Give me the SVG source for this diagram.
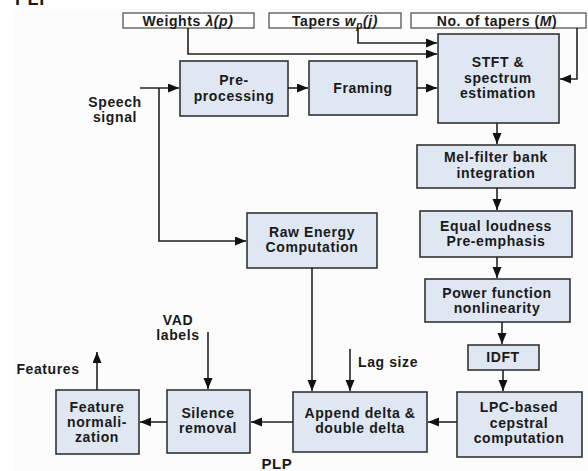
<svg xmlns="http://www.w3.org/2000/svg" width="588" height="471" viewBox="0 0 588 471">
<style>
text{font-family:"Liberation Sans",Arial,sans-serif;font-weight:bold;font-size:14px;letter-spacing:0.6px;fill:#1a1a1a;text-anchor:middle}
.box{fill:#dfe7f2;stroke:#333;stroke-width:1.6}
.in{fill:#fff;stroke:#555;stroke-width:1.3}
.c{fill:none;stroke:#222;stroke-width:1.6}
.lbl{text-anchor:start}
</style>
<defs>
<marker id="ah" markerUnits="userSpaceOnUse" markerWidth="12" markerHeight="10" refX="11" refY="4.5" orient="auto">
<path d="M0,0 L11,4.5 L0,9 z" fill="#111"/>
</marker>
</defs>
<rect x="0" y="0" width="588" height="471" fill="#fff"/>
<rect x="13" y="9" width="575" height="462" fill="#fcfcfc"/>
<text x="15" y="5" class="lbl" style="font-size:18px">PLP</text>

<g id="weights"><rect class="in" x="123" y="13" width="131" height="15"/><text x="188" y="26">Weights <tspan font-style="italic">λ(p)</tspan></text></g>
<g id="tapers"><rect class="in" x="269" y="13" width="132" height="15"/><text x="335" y="26">Tapers <tspan font-style="italic">w</tspan><tspan font-style="italic" font-size="10" dy="3">p</tspan><tspan font-style="italic" dy="-3">(j)</tspan></text></g>
<g id="ntapers"><rect class="in" x="411" y="13" width="175" height="15"/><text x="497" y="26">No. of tapers (<tspan font-style="italic">M</tspan>)</text></g>

<g id="preprocessing"><rect class="box" x="180" y="61" width="108" height="55"/><text x="234" y="85">Pre-</text><text x="234" y="101">processing</text></g>
<g id="framing"><rect class="box" x="309" y="61" width="108" height="54"/><text x="363" y="93">Framing</text></g>
<g id="stft"><rect class="box" x="438" y="34" width="121" height="89"/><text x="498" y="67">STFT &amp;</text><text x="498" y="83">spectrum</text><text x="498" y="98">estimation</text></g>
<g id="mel"><rect class="box" x="417" y="145" width="158" height="43"/><text x="496" y="162">Mel-filter bank</text><text x="496" y="178">integration</text></g>
<g id="equal"><rect class="box" x="420" y="211" width="152" height="46"/><text x="496" y="231">Equal loudness</text><text x="496" y="246">Pre-emphasis</text></g>
<g id="power"><rect class="box" x="425" y="279" width="145" height="43"/><text x="497" y="298">Power function</text><text x="497" y="313">nonlinearity</text></g>
<g id="idft"><rect class="box" x="468" y="345" width="71" height="25"/><text x="503" y="362">IDFT</text></g>
<g id="lpc"><rect class="box" x="457" y="392" width="125" height="65"/><text x="519" y="412">LPC-based</text><text x="519" y="428">cepstral</text><text x="519" y="443">computation</text></g>
<g id="append"><rect class="box" x="293" y="392" width="134" height="60"/><text x="360" y="418">Append delta &amp;</text><text x="360" y="433">double delta</text></g>
<g id="raw"><rect class="box" x="247" y="213" width="130" height="55"/><text x="312" y="237">Raw Energy</text><text x="312" y="252">Computation</text></g>
<g id="silence"><rect class="box" x="167" y="390" width="83" height="63"/><text x="208" y="418">Silence</text><text x="208" y="433">removal</text></g>
<g id="featnorm"><rect class="box" x="56" y="390" width="83" height="64"/><text x="97" y="412">Feature</text><text x="97" y="427">normali-</text><text x="97" y="442">zation</text></g>

<g id="labels">
<text x="115" y="107">Speech</text><text x="115" y="122">signal</text>
<text x="178" y="325">VAD</text><text x="178" y="340">labels</text>
<text x="48" y="374">Features</text>
<text x="358" y="367" class="lbl">Lag size</text>
<text x="277" y="469" style="font-size:15px">PLP</text>
</g>

<g id="connectors">
<path class="c" d="M188,28 V54 H437" marker-end="url(#ah)"/>
<path class="c" d="M358,28 V43 H437" marker-end="url(#ah)"/>
<path class="c" d="M577,28 V79 H560" marker-end="url(#ah)"/>
<path class="c" d="M140,88 H179" marker-end="url(#ah)"/>
<path class="c" d="M288,88 H308" marker-end="url(#ah)"/>
<path class="c" d="M417,88 H437" marker-end="url(#ah)"/>
<path class="c" d="M159,88 V241 H246" marker-end="url(#ah)"/>
<path class="c" d="M497,123 V144" marker-end="url(#ah)"/>
<path class="c" d="M497,188 V210" marker-end="url(#ah)"/>
<path class="c" d="M497,257 V278" marker-end="url(#ah)"/>
<path class="c" d="M502,322 V344" marker-end="url(#ah)"/>
<path class="c" d="M503,370 V391" marker-end="url(#ah)"/>
<path class="c" d="M457,422 H428" marker-end="url(#ah)"/>
<path class="c" d="M312,268 V391" marker-end="url(#ah)"/>
<path class="c" d="M350,349 V391" marker-end="url(#ah)"/>
<path class="c" d="M293,422 H251" marker-end="url(#ah)"/>
<path class="c" d="M208,332 V389" marker-end="url(#ah)"/>
<path class="c" d="M167,422 H140" marker-end="url(#ah)"/>
<path class="c" d="M97,390 V352" marker-end="url(#ah)"/>
</g>
</svg>
